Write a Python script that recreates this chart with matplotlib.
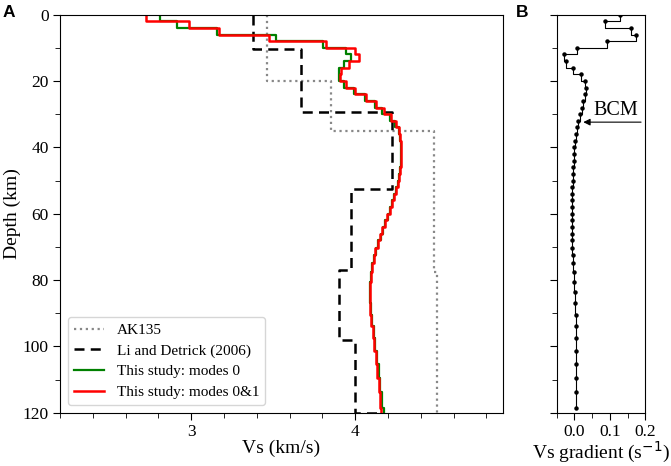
import numpy as np
import matplotlib
matplotlib.use('Agg')
import matplotlib.pyplot as plt
from matplotlib.ticker import MultipleLocator

plt.rcParams['font.family'] = ['Liberation Serif', 'DejaVu Serif']

# AK135 reference model (layer tops in km, Vs in km/s)
ak135_top = [0, 20, 35, 77.5]
ak135_vs = [3.46, 3.85, 4.48, 4.50]

# Li and Detrick (2006)
li_top = [0, 10.2, 29.3, 52.6, 77, 98, 120]
li_vs = [3.38, 3.67, 4.225, 3.975, 3.90, 4.00, 4.15]

# layer tops of this study's model (km)
layer_top = [0, 2, 4, 6, 8, 10, 12, 14, 16, 18, 20, 22, 24, 26, 28, 30, 32, 34,
             36, 38, 40, 42, 44, 46, 48, 50, 52, 54, 56, 58, 60, 62, 64, 66, 68,
             70.2, 72.4, 74.9, 77.5, 80.5, 83.5, 87.0, 90.5, 93.8, 97.4, 101.4,
             105.2, 109.5, 113.8, 118.7]

# this study: modes 0
vs_mode0 = [2.808, 2.915, 3.155, 3.517, 3.802, 3.945, 3.972, 3.935, 3.900, 3.900,
            3.935, 3.995, 4.060, 4.120, 4.165, 4.210, 4.245, 4.266, 4.275, 4.279,
            4.281, 4.281, 4.279, 4.275, 4.269, 4.261, 4.250, 4.238, 4.225, 4.212,
            4.198, 4.184, 4.170, 4.156, 4.142, 4.128, 4.116, 4.105, 4.097, 4.092,
            4.091, 4.095, 4.103, 4.113, 4.123, 4.134, 4.143, 4.152, 4.162, 4.175]

# this study: modes 0&1
vs_mode01 = [2.727, 2.986, 3.169, 3.476, 3.823, 4.002, 4.021, 3.962, 3.915, 3.905,
             3.942, 4.000, 4.066, 4.126, 4.176, 4.218, 4.248, 4.268, 4.275, 4.279,
             4.281, 4.281, 4.279, 4.275, 4.269, 4.261, 4.250, 4.238, 4.225, 4.210,
             4.195, 4.180, 4.165, 4.151, 4.137, 4.124, 4.113, 4.103, 4.095, 4.090,
             4.088, 4.091, 4.099, 4.108, 4.117, 4.127, 4.135, 4.143, 4.151, 4.160]

# Vs gradient (1/s) at each layer top
vs_grad = [0.128, 0.086, 0.160, 0.175, 0.092, 0.006, -0.030, -0.025, -0.005, 0.019,
           0.030, 0.034, 0.030, 0.025, 0.021, 0.015, 0.010, 0.0066, 0.004, 0.002,
           0.0, -0.001, -0.002, -0.003, -0.004, -0.005, -0.0057, -0.0065, -0.0075, -0.0075,
           -0.0075, -0.0075, -0.0075, -0.007, -0.007, -0.006, -0.005, -0.004, -0.002, -0.001,
           0.001, 0.002, 0.003, 0.003, 0.003, 0.003, 0.003, 0.003, 0.004, 0.005]

bcm_depth = 32.4
max_depth = 120


def profile(vs, top):
    # step profile down to the bottom of the plot
    x = list(vs) + [vs[-1]]
    y = list(top) + [max_depth]
    return x, y


fig = plt.figure(figsize=(6.71, 4.66), dpi=100)
ax = fig.add_axes([0.0894, 0.1144, 0.6598, 0.8541])
axb = fig.add_axes([0.8297, 0.1144, 0.1320, 0.8541])

x, y = profile(ak135_vs, ak135_top)
ax.plot(x, y, drawstyle='steps-pre', color='#888888', ls=':', lw=1.6, label='AK135')
ax.plot(li_vs, li_top, drawstyle='steps-pre', color='black', ls=(0, (4, 2.5)), lw=1.8,
        label='Li and Detrick (2006)')
x, y = profile(vs_mode0, layer_top)
ax.plot(x, y, drawstyle='steps-pre', color='green', lw=1.6, label='This study: modes 0')
x, y = profile(vs_mode01, layer_top)
ax.plot(x, y, drawstyle='steps-pre', color='red', lw=1.8, label='This study: modes 0&1')

ax.set_xlim(2.2, 4.9)
ax.set_ylim(max_depth, 0)
ax.set_xticks([3, 4])
ax.xaxis.set_minor_locator(MultipleLocator(0.2))
ax.yaxis.set_major_locator(MultipleLocator(20))
ax.yaxis.set_minor_locator(MultipleLocator(10))
ax.tick_params(which='both', direction='out', labelsize=12.5, top=False, right=False, pad=3)
ax.tick_params(which='major', length=5)
ax.tick_params(which='minor', length=3.5)
ax.set_xlabel('Vs (km/s)', fontsize=14, labelpad=0)
ax.set_ylabel('Depth (km)', fontsize=14, labelpad=1)
ax.legend(loc='lower left', fontsize=11, labelspacing=0.45, borderaxespad=0.5)

# panel B: gradient
axb.plot(vs_grad, layer_top, drawstyle='steps-pre', color='black', lw=0.8)
axb.plot(vs_grad, layer_top, 'o', color='black', ms=2.2)
axb.set_xlim(-0.05, 0.2)
axb.set_ylim(max_depth, 0)
axb.set_xticks([0.0, 0.1, 0.2])
axb.xaxis.set_minor_locator(MultipleLocator(0.05))
axb.yaxis.set_major_locator(MultipleLocator(20))
axb.yaxis.set_minor_locator(MultipleLocator(10))
axb.tick_params(which='both', direction='out', labelsize=12.5, top=False, right=False, pad=3)
axb.tick_params(which='major', length=5)
axb.tick_params(which='minor', length=3.5)
axb.tick_params(axis='y', which='both', labelleft=False)
axb.set_xlabel('Vs gradient (s$^{-1}$)', fontsize=14, labelpad=0)

axb.annotate('', xy=(0.025, bcm_depth), xytext=(0.188, bcm_depth),
             arrowprops=dict(arrowstyle='-|>', color='black', lw=0.8,
                             mutation_scale=10, shrinkA=0, shrinkB=0))
axb.text(0.117, bcm_depth - 0.6, 'BCM', fontsize=14.5, ha='center', va='bottom')

fig.text(3 / 671, 1 - 5 / 466, 'A', fontsize=12.5, fontweight='bold',
         family='Liberation Sans', ha='left', va='top')
fig.text(516 / 671, 1 - 5 / 466, 'B', fontsize=12.5, fontweight='bold',
         family='Liberation Sans', ha='left', va='top')

fig.savefig('out.png', dpi=100)
